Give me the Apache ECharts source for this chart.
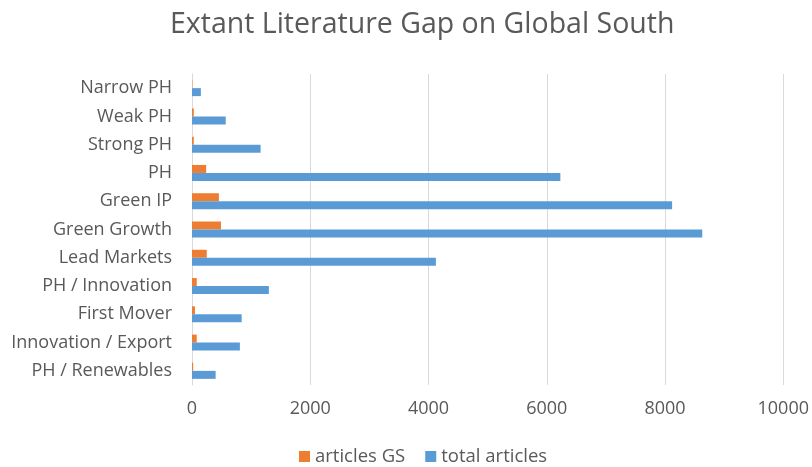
<!DOCTYPE html>
<html>
<head>
<meta charset="utf-8">
<script src="https://cdn.jsdelivr.net/npm/echarts@6/dist/echarts.min.js"></script>
<style>
  html, body { margin: 0; padding: 0; background: #fff; }
  #chart { width: 812px; height: 467px; }
</style>
</head>
<body>
<div id="chart"></div>
<script>
// categories top to bottom
var categories = ['Narrow PH', 'Weak PH', 'Strong PH', 'PH', 'Green IP', 'Green Growth',
  'Lead Markets', 'PH / Innovation', 'First Mover', 'Innovation / Export', 'PH / Renewables'];
var articlesGS = [5, 30, 30, 240, 455, 490, 250, 80, 50, 80, 20];
var totalArticles = [150, 570, 1160, 6230, 8120, 8630, 4125, 1300, 840, 810, 400];
var xTicks = { min: 0, max: 10000, interval: 2000 };

var font = '"Open Sans", sans-serif';
var chart = echarts.init(document.getElementById('chart'));
chart.setOption({
  animation: false,
  textStyle: { fontFamily: font },
  title: {
    text: 'Extant Literature Gap on Global South',
    left: 165, top: 5,
    textStyle: { fontFamily: font, fontSize: 28.5, fontWeight: 'normal', color: '#595959' }
  },
  legend: {
    top: 442, left: 294,
    itemWidth: 11, itemHeight: 11, itemGap: 20,
    icon: 'rect',
    textStyle: { fontFamily: font, fontSize: 18.5, color: '#595959' },
    data: ['articles GS', 'total articles']
  },
  grid: { left: 192, right: 27, top: 74, bottom: 82, containLabel: false },
  xAxis: {
    type: 'value',
    min: xTicks.min, max: xTicks.max, interval: xTicks.interval,
    axisLine: { show: false },
    axisTick: { show: false },
    axisLabel: { fontFamily: font, fontSize: 18, color: '#595959', margin: 15,
      formatter: function (v) { return String(v); } },
    splitLine: { lineStyle: { color: '#d9d9d9', width: 1 } }
  },
  yAxis: {
    type: 'category',
    inverse: true,
    data: categories,
    axisLine: { lineStyle: { color: '#d9d9d9' } },
    axisTick: { show: false },
    axisLabel: { fontFamily: font, fontSize: 18, color: '#595959', margin: 20 }
  },
  series: [
    { name: 'articles GS', type: 'bar', data: articlesGS, barWidth: 8, barGap: '0%',
      itemStyle: { color: '#ED7D31' } },
    { name: 'total articles', type: 'bar', data: totalArticles, barWidth: 8, barGap: '0%',
      itemStyle: { color: '#5B9BD5' } }
  ]
});
</script>
</body>
</html>
